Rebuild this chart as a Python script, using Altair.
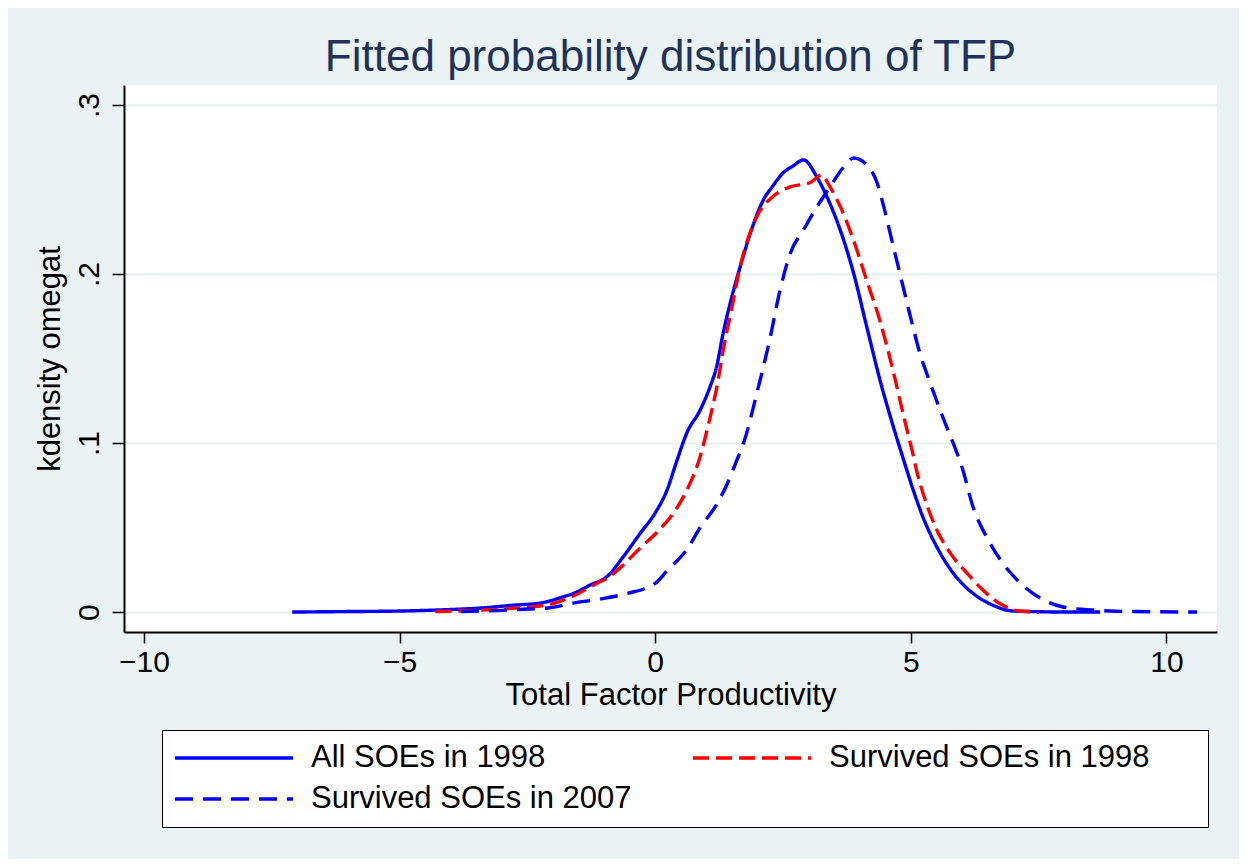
import altair as alt
import pandas as pd

series_names = ["All SOEs in 1998", "Survived SOEs in 1998", "Survived SOEs in 2007"]
# legend lays out column by column; this order gives rows: [All 1998, Survived 1998], [Survived 2007]
legend_order = ["All SOEs in 1998", "Survived SOEs in 2007", "Survived SOEs in 1998"]
series_colors = {"All SOEs in 1998": "#0000FF", "Survived SOEs in 1998": "#FF0000",
                 "Survived SOEs in 2007": "#0000FF"}
series_dashes = {"All SOEs in 1998": [1, 0], "Survived SOEs in 1998": [16, 7],
                 "Survived SOEs in 2007": [18, 10]}

all98_x = [-7.1, -6.0, -5.0, -4.7, -4.0, -3.4, -2.8, -2.25, -1.8, -1.6, -1.27, -0.94, -0.63, -0.29,
           0.0, 0.23, 0.43, 0.62, 0.88, 1.07, 1.2, 1.33, 1.53, 1.66, 1.86, 2.12, 2.3, 2.51, 2.7, 2.9,
           3.17, 3.37, 3.62, 3.88, 4.14, 4.4, 4.66, 4.86, 5.05, 5.24, 5.51, 5.83, 6.22, 6.61, 7.0,
           7.5, 8.0, 8.7]
all98_y = [0.0, 0.0003, 0.0006, 0.0008, 0.0015, 0.0024, 0.004, 0.0053, 0.009, 0.011, 0.016, 0.021,
           0.0325, 0.0467, 0.0586, 0.072, 0.09, 0.106, 0.1195, 0.133, 0.145, 0.165, 0.19, 0.204,
           0.224, 0.244, 0.252, 0.26, 0.264, 0.2675, 0.257, 0.245, 0.226, 0.2006, 0.1686, 0.137,
           0.1095, 0.09, 0.072, 0.056, 0.0385, 0.023, 0.011, 0.004, 0.0006, 0.0002, 0.0, 0.0]

surv98_x = [-4.3, -3.5, -3.0, -2.45, -2.0, -1.6, -1.14, -0.94, -0.69, -0.29, 0.06, 0.39, 0.65,
            0.86, 1.05, 1.2, 1.35, 1.5, 1.66, 1.99, 2.31, 2.64, 3.03, 3.26, 3.42, 3.62, 3.88, 4.14,
            4.4, 4.66, 4.86, 5.03, 5.12, 5.32, 5.51, 5.77, 6.1, 6.41, 6.8, 7.08, 7.5]
surv98_y = [0.0003, 0.001, 0.0018, 0.003, 0.005, 0.0095, 0.017, 0.02, 0.026, 0.038, 0.048, 0.06,
            0.074, 0.09, 0.112, 0.132, 0.158, 0.18, 0.204, 0.234, 0.246, 0.2515, 0.254, 0.2586,
            0.2515, 0.24, 0.22, 0.196, 0.172, 0.142, 0.116, 0.095, 0.083, 0.063, 0.0485, 0.035,
            0.023, 0.013, 0.004, 0.0008, 0.0]

surv07_x = [-3.8, -3.0, -2.5, -2.1, -1.6, -1.08, -0.55, 0.0, 0.25, 0.62, 0.88, 1.21, 1.47, 1.6,
            1.73, 1.99, 2.24, 2.44, 2.64, 2.9, 3.17, 3.42, 3.68, 3.88, 4.14, 4.34, 4.47, 4.66,
            4.79, 4.99, 5.18, 5.38, 5.63, 5.86, 6.0, 6.22, 6.49, 6.75, 7.08, 7.53, 7.98, 8.57,
            9.0, 10.6]
surv07_y = [0.0003, 0.001, 0.0018, 0.0024, 0.0053, 0.0077, 0.011, 0.017, 0.025, 0.037, 0.05,
            0.064, 0.08, 0.09, 0.1, 0.1296, 0.161, 0.19, 0.212, 0.226, 0.24, 0.2515, 0.263,
            0.2686, 0.2645, 0.254, 0.24, 0.216, 0.2, 0.175, 0.153, 0.1355, 0.115, 0.0976, 0.086,
            0.062, 0.044, 0.031, 0.019, 0.0083, 0.003, 0.0012, 0.0005, 0.0]

x_ticks = [-10, -5, 0, 5, 10]
y_ticks = [0, 0.1, 0.2, 0.3]

rows = []
for name, xs, ys in zip(series_names, [all98_x, surv98_x, surv07_x], [all98_y, surv98_y, surv07_y]):
    for xv, yv in zip(xs, ys):
        rows.append({"series": name, "tfp": xv, "density": yv})
df = pd.DataFrame(rows)

BG = "#EAF2F3"
FONT = "Liberation Sans"

chart = alt.Chart(df).mark_line(strokeWidth=3.4, clip=True, interpolate="monotone").encode(
    x=alt.X("tfp:Q",
            scale=alt.Scale(domain=[-10.39, 10.99], nice=False, zero=False),
            axis=alt.Axis(values=x_ticks, title="Total Factor Productivity", grid=False,
                          labelFontSize=30, titleFontSize=31, labelPadding=4, titlePadding=3,
                          tickSize=11)),
    y=alt.Y("density:Q",
            scale=alt.Scale(domain=[-0.0118, 0.3118], nice=False, zero=False),
            axis=alt.Axis(values=y_ticks, title="kdensity omegat", grid=True,
                          gridColor=BG, gridWidth=2.5,
                          labelExpr="datum.value == 0 ? '0' : replace(format(datum.value, '.1f'), '0.', '.')",
                          labelAngle=270, labelAlign="center", labelBaseline="alphabetic",
                          labelFontSize=30, titleFontSize=31, labelPadding=14, titlePadding=8,
                          tickSize=12)),
    color=alt.Color("series:N",
                    scale=alt.Scale(domain=legend_order,
                                    range=[series_colors[s] for s in legend_order]),
                    legend=alt.Legend(title=" ", titleOrient="right", titlePadding=47,
                                      orient="none", legendX=38, legendY=645, columns=2,
                                      symbolType="stroke", symbolSize=13924, symbolStrokeWidth=3.4,
                                      clipHeight=34, rowPadding=7, columnPadding=59,
                                      labelOffset=16, labelFontSize=31, labelFont=FONT,
                                      labelColor="black", padding=11, fillColor="white",
                                      strokeColor="black", labelLimit=600)),
    strokeDash=alt.StrokeDash("series:N",
                              scale=alt.Scale(domain=legend_order,
                                              range=[series_dashes[s] for s in legend_order]),
                              legend=alt.Legend(title=" ")),
).properties(
    width=1093,
    height=547,
    autosize=alt.AutoSizeParams(type="none"),
    padding={"left": 116, "top": 77, "right": 22, "bottom": 227},
    background=BG,
    title=alt.TitleParams("Fitted probability distribution of TFP", fontSize=44, font=FONT,
                          fontWeight="normal", color="#1E325C", anchor="middle",
                          baseline="alphabetic", offset=15, dy=45),
).configure_view(
    fill="white", stroke=None
).configure_axis(
    labelFont=FONT, titleFont=FONT, labelColor="black", titleColor="black",
    titleFontWeight="normal", domainColor="black", domainWidth=2, tickColor="black",
    tickWidth=1.5
)

chart.save("out.html", embed_options={"renderer": "svg", "actions": False})
